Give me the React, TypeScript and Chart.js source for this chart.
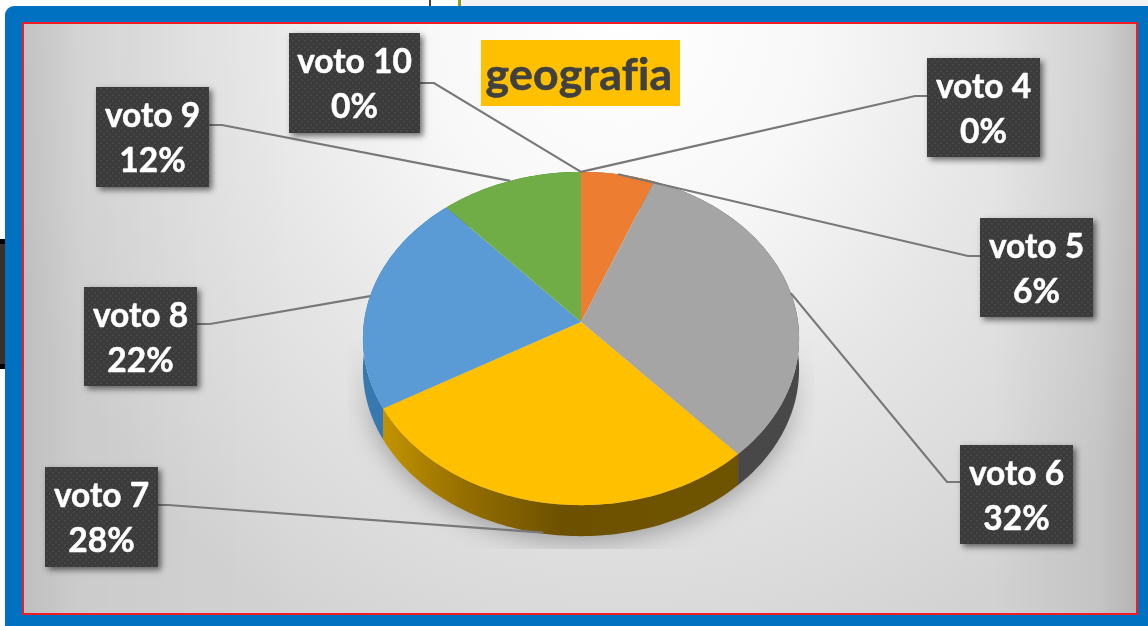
import React, { useEffect, useRef } from "react";
import { Chart, registerables } from "chart.js";

Chart.register(...registerables);

const categories = ["voto 4", "voto 5", "voto 6", "voto 7", "voto 8", "voto 9", "voto 10"];
const shares = [0, 6, 32.3, 28.4, 21.7, 11.6, 0];
const sliceColors = ["#5b9bd5", "#ed7d31", "#a5a5a5", "#ffc000", "#5b9bd5", "#70ad47", "#264478"];
const wallColors = ["#2f6a9e", "#a85a20", "#484848", "#6e5200", "#3878b0", "#4e7a30", "#1c3358"];
const chartTitle = "geografia";

// call-out boxes: [x, y, w, h], elbow point, side the leader leaves from
const boxes: Record<string, { r: number[]; elbow: number[]; start: number[] }> = {
  "voto 4": { r: [927, 58, 113, 99], elbow: [915, 96], start: [927, 96] },
  "voto 5": { r: [980, 218, 113, 99], elbow: [968, 256], start: [980, 256] },
  "voto 6": { r: [960, 445, 113, 99], elbow: [947, 482], start: [960, 482] },
  "voto 7": { r: [45, 467, 113, 100], elbow: [168, 505], start: [158, 505] },
  "voto 8": { r: [84, 287, 113, 99], elbow: [210, 324], start: [197, 324] },
  "voto 9": { r: [96, 87, 113, 100], elbow: [222, 125], start: [209, 125] },
  "voto 10": { r: [289, 33, 131, 100], elbow: [434, 83], start: [420, 83] },
};

const DEPTH = 31;
const K = -0.099;
const AX = 217 / 218;
const BY = 165 / 218;

function project(el: any, a: number): [number, number] {
  const u = Math.cos(a);
  const v = Math.sin(a);
  const w = 1 + K * v;
  return [el.x + (el.outerRadius * AX * u) / w, el.y + (el.outerRadius * BY * v) / w];
}

function rim(ctx: CanvasRenderingContext2D, el: any, from: number, to: number, dy: number, first: boolean) {
  const steps = Math.max(2, Math.ceil(Math.abs(to - from) / 0.02));
  for (let i = 0; i <= steps; i++) {
    const [x, y] = project(el, from + ((to - from) * i) / steps);
    if (i === 0 && first) ctx.moveTo(x, y + dy);
    else ctx.lineTo(x, y + dy);
  }
}

function dotPattern(ctx: CanvasRenderingContext2D) {
  const c = document.createElement("canvas");
  c.width = 6;
  c.height = 6;
  const p = c.getContext("2d")!;
  p.fillStyle = "#3b3b3b";
  p.fillRect(0, 0, 6, 6);
  p.fillStyle = "#464646";
  p.fillRect(1, 1, 2, 2);
  p.fillRect(4, 4, 2, 2);
  return ctx.createPattern(c, "repeat")!;
}

function boldText(ctx: CanvasRenderingContext2D, text: string, x: number, y: number, w: number) {
  ctx.lineWidth = w;
  ctx.lineJoin = "round";
  ctx.strokeStyle = ctx.fillStyle as string;
  ctx.strokeText(text, x, y);
  ctx.fillText(text, x, y);
}

const framePlugin = {
  id: "frame",
  beforeDraw(chart: any) {
    const ctx: CanvasRenderingContext2D = chart.ctx;
    ctx.save();
    ctx.fillStyle = "#ffffff";
    ctx.fillRect(0, 0, 1148, 626);
    ctx.fillStyle = "#f3f3f3";
    ctx.fillRect(460, 0, 688, 7);
    ctx.fillStyle = "#444444";
    ctx.fillRect(429, 0, 2, 7);
    ctx.fillStyle = "#8a9a2c";
    ctx.fillRect(458, 0, 3, 7);
    ctx.fillStyle = "#000000";
    ctx.fillRect(0, 239, 6, 130);
    ctx.fillStyle = "#3a3028";
    ctx.fillRect(0, 244, 6, 120);

    ctx.fillStyle = "#0070c0";
    ctx.beginPath();
    ctx.roundRect(5, 6, 1160, 640, 9);
    ctx.fill();

    ctx.fillStyle = "#ee1c25";
    ctx.fillRect(22, 22, 1116, 593);

    // main wash
    ctx.save();
    ctx.beginPath();
    ctx.rect(24, 24, 1112, 589);
    ctx.clip();
    ctx.translate(620, 20);
    ctx.scale(640 / 700, 1);
    const g = ctx.createRadialGradient(0, 0, 0, 0, 0, 700);
    g.addColorStop(0, "#ffffff");
    g.addColorStop(0.3, "#f8f8f8");
    g.addColorStop(0.6, "#e6e6e6");
    g.addColorStop(0.85, "#dadada");
    g.addColorStop(1, "#d2d2d2");
    ctx.fillStyle = g;
    ctx.fillRect(-800, -100, 1600, 1000);
    ctx.restore();

    // darker side bands
    const s = ctx.createLinearGradient(24, 0, 1136, 0);
    s.addColorStop(0, "rgba(0,0,0,0.09)");
    s.addColorStop(0.05, "rgba(0,0,0,0.03)");
    s.addColorStop(0.15, "rgba(0,0,0,0.01)");
    s.addColorStop(0.25, "rgba(0,0,0,0)");
    s.addColorStop(0.87, "rgba(0,0,0,0)");
    s.addColorStop(0.967, "rgba(0,0,0,0.065)");
    s.addColorStop(1, "rgba(0,0,0,0.14)");
    ctx.fillStyle = s;
    ctx.fillRect(24, 24, 1112, 589);

    ctx.restore();
  },
  beforeDatasetDraw(chart: any) {
    const ctx: CanvasRenderingContext2D = chart.ctx;
    const arcs = chart.getDatasetMeta(0).data;
    const first = arcs[0];

    // soft ground shadow, fading upward and cut off below
    ctx.save();
    ctx.beginPath();
    ctx.rect(348, 340, 466, 209);
    ctx.clip();
    (ctx as any).filter = "blur(12px)";
    const sh = ctx.createLinearGradient(0, 345, 0, 430);
    sh.addColorStop(0, "rgba(70,70,70,0)");
    sh.addColorStop(1, "rgba(70,70,70,0.42)");
    ctx.fillStyle = sh;
    ctx.beginPath();
    rim(ctx, first, 0, Math.PI * 2, DEPTH + 6, true);
    ctx.closePath();
    ctx.fill();
    ctx.restore();

    // side walls
    arcs.forEach((el: any, i: number) => {
      if (el.endAngle - el.startAngle < 0.001) return;
      ctx.save();
      ctx.beginPath();
      rim(ctx, el, el.startAngle, el.endAngle, 0, true);
      rim(ctx, el, el.endAngle, el.startAngle, DEPTH, false);
      ctx.closePath();
      if (i === 3) {
        const g = ctx.createLinearGradient(384, 0, 738, 0);
        g.addColorStop(0, "#c29300");
        g.addColorStop(0.22, "#966f00");
        g.addColorStop(0.5, "#6d5100");
        g.addColorStop(1, "#6f5400");
        ctx.fillStyle = g;
      } else {
        ctx.fillStyle = wallColors[i];
      }
      ctx.fill();
      ctx.restore();
    });

    // top faces
    arcs.forEach((el: any, i: number) => {
      if (el.endAngle - el.startAngle < 0.001) return;
      ctx.beginPath();
      ctx.moveTo(el.x, el.y);
      rim(ctx, el, el.startAngle, el.endAngle, 0, false);
      ctx.closePath();
      ctx.fillStyle = sliceColors[i];
      ctx.fill();
    });
    return false;
  },
  afterDatasetsDraw(chart: any) {
    const ctx: CanvasRenderingContext2D = chart.ctx;
    const arcs = chart.getDatasetMeta(0).data;
    const pattern = dotPattern(ctx);

    // leaders
    arcs.forEach((el: any, i: number) => {
      const b = boxes[categories[i]];
      const [ax, ay] = project(el, (el.startAngle + el.endAngle) / 2);
      const onWall = categories[i] === "voto 7";
      ctx.beginPath();
      ctx.moveTo(b.start[0], b.start[1]);
      ctx.lineTo(b.elbow[0], b.elbow[1]);
      ctx.lineTo(ax, onWall ? ay + DEPTH - 1 : ay);
      ctx.strokeStyle = "#787878";
      ctx.lineWidth = 2.2;
      ctx.stroke();
    });

    // boxes
    categories.forEach((name, i) => {
      const [x, y, w, h] = boxes[name].r;
      ctx.save();
      ctx.shadowColor = "rgba(0,0,0,0.55)";
      ctx.shadowBlur = 6;
      ctx.shadowOffsetX = 3;
      ctx.shadowOffsetY = 3;
      ctx.fillStyle = "#3b3b3b";
      ctx.fillRect(x, y, w, h);
      ctx.restore();
      ctx.fillStyle = pattern;
      ctx.fillRect(x, y, w, h);
      ctx.fillStyle = "#ffffff";
      ctx.font = "bold 33.5px Lato";
      ctx.textAlign = "center";
      ctx.textBaseline = "alphabetic";
      boldText(ctx, name, x + w / 2, y + 40, 0.5);
      boldText(ctx, `${Math.round(shares[i])}%`, x + w / 2, y + 85, 0.5);
    });

    // title
    ctx.fillStyle = "#ffc000";
    ctx.fillRect(481, 40, 199, 66);
    ctx.fillStyle = "#404040";
    ctx.font = "bold 44.5px Lato";
    ctx.textAlign = "center";
    ctx.textBaseline = "alphabetic";
    (ctx as any).letterSpacing = "0.3px";
    boldText(ctx, chartTitle, 579, 90, 0.6);
    (ctx as any).letterSpacing = "0px";
  },
};

export default function App() {
  const ref = useRef<HTMLCanvasElement>(null);
  useEffect(() => {
    document.body.style.margin = "0";
    const chart = new Chart(ref.current!, {
      type: "pie",
      data: {
        labels: categories,
        datasets: [{ data: shares, backgroundColor: sliceColors, borderWidth: 0 }],
      },
      options: {
        animation: false,
        responsive: false,
        layout: { padding: { left: 363, right: 349, top: 104, bottom: 86 } },
        plugins: { legend: { display: false }, title: { display: false }, tooltip: { enabled: false } },
      },
      plugins: [framePlugin],
    } as any);
    return () => chart.destroy();
  }, []);
  return (
    <div style={{ position: "fixed", left: 0, top: 0, width: 1148, height: 626, overflow: "hidden" }}>
      <canvas ref={ref} width={1148} height={626} style={{ display: "block" }} />
    </div>
  );
}
